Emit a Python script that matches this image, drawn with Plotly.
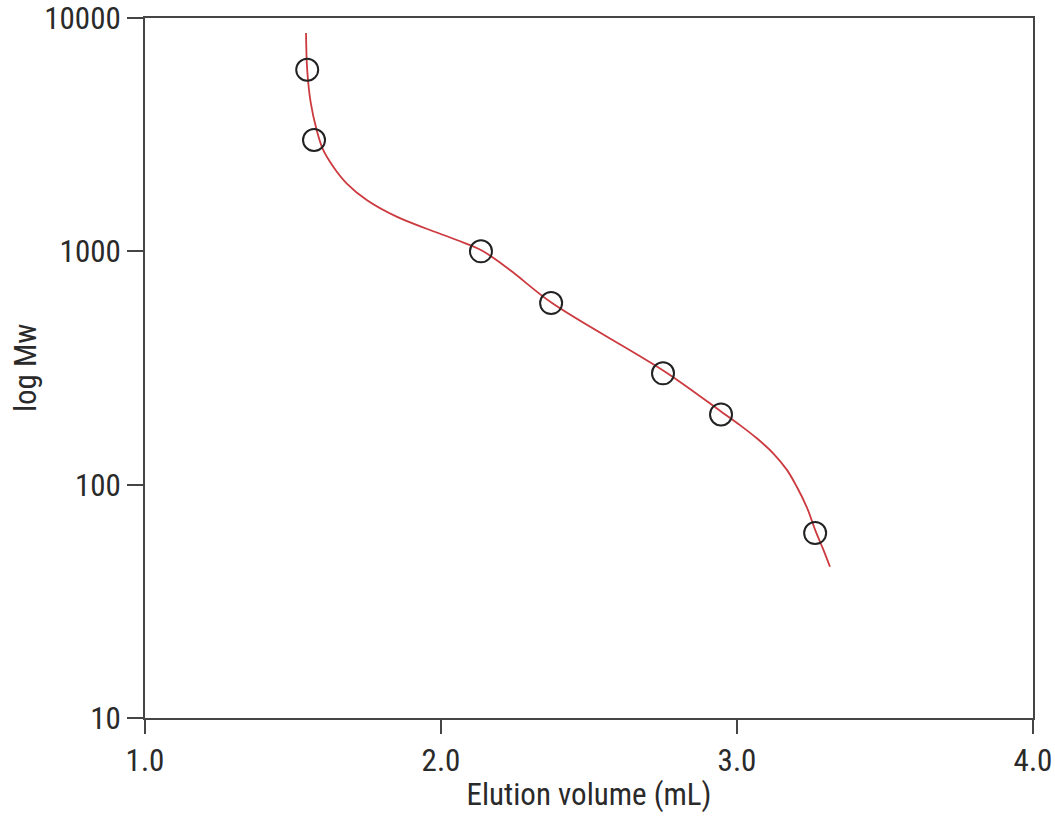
import plotly.graph_objects as go

# Calibration standards (circles)
std_volume = [1.548, 1.571, 2.135, 2.372, 2.750, 2.946, 3.264]
std_mw = [6000, 3000, 1000, 600, 300, 200, 62]

# Fitted calibration curve
fit_volume = [1.544, 1.548, 1.560, 1.580, 1.602, 1.636, 1.681, 1.749, 1.850,
              1.963, 2.053, 2.138, 2.233, 2.374, 2.757, 2.948, 3.010, 3.067,
              3.123, 3.168, 3.202, 3.236, 3.264, 3.292, 3.314]
fit_mw = [8626, 5985, 4323, 3311, 2719, 2305, 1957, 1660, 1408,
          1234, 1118, 1008, 832, 602, 305, 205, 180, 158,
          136, 116, 98, 80, 64, 52.5, 44.5]

x_ticks = [1.0, 2.0, 3.0, 4.0]
x_ticklabels = ["1.0", "2.0", "3.0", "4.0"]
y_ticks = [10, 100, 1000, 10000]
y_ticklabels = ["10", "100", "1000", "10000"]
x_title = "Elution volume (mL)"
y_title = "log Mw"

FONT = "Roboto Condensed, Liberation Sans Narrow, Roboto, sans-serif"
AX = "#454545"
TXT = "#2a2a2a"
FS = 31

fig = go.Figure()
fig.add_trace(go.Scatter(x=fit_volume, y=fit_mw, mode="lines",
                         line=dict(color="#cc3a3f", width=1.8, shape="spline", smoothing=1.0),
                         hoverinfo="skip", showlegend=False))
fig.add_trace(go.Scatter(x=std_volume, y=std_mw, mode="markers",
                         marker=dict(symbol="circle-open", size=22,
                                     color="#222222", line=dict(width=2, color="#222222")),
                         showlegend=False))

fig.update_layout(
    width=1055, height=836,
    margin=dict(l=145, r=22, t=18, b=118),
    paper_bgcolor="white", plot_bgcolor="white",
    font=dict(family=FONT, size=FS, color=TXT),
)
fig.update_xaxes(range=[1.0, 4.0], tickvals=x_ticks, ticktext=x_ticklabels,
                 automargin=False, ticklabeloverflow="allow",
                 showgrid=False, zeroline=False,
                 showline=True, linecolor=AX, linewidth=2, mirror=True,
                 ticks="outside", ticklen=14, tickwidth=2, tickcolor=AX,
                 tickfont=dict(family=FONT, size=FS, color=TXT),
                 title=dict(text=x_title, standoff=5,
                            font=dict(family=FONT, size=FS, color=TXT)))
fig.update_yaxes(type="log", range=[1, 4], tickvals=y_ticks, ticktext=y_ticklabels,
                 automargin=False, ticklabeloverflow="allow",
                 showgrid=False, zeroline=False,
                 showline=True, linecolor=AX, linewidth=2, mirror=True,
                 ticks="outside", ticklen=16, tickwidth=2, tickcolor=AX,
                 tickfont=dict(family=FONT, size=FS, color=TXT))
fig.add_annotation(text=y_title, textangle=-90, xref="paper", yref="paper",
                   x=-0.135, y=0.5, xanchor="center", yanchor="middle",
                   showarrow=False, font=dict(family=FONT, size=FS, color=TXT))

fig.write_html("out.html", config={"displayModeBar": False},
               post_script="document.body.style.margin='0';document.body.style.overflow='hidden';")
